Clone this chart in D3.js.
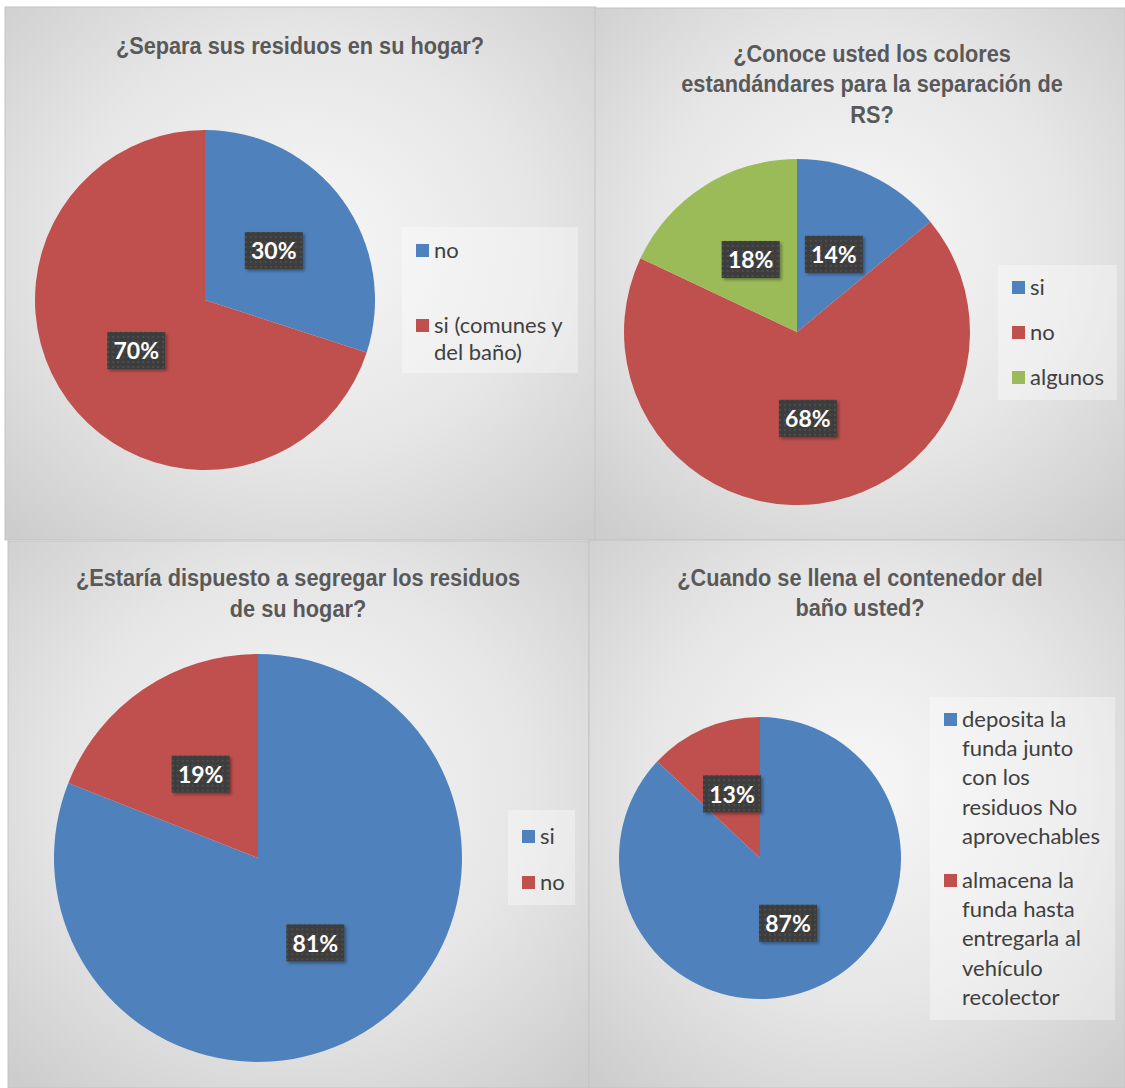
<!DOCTYPE html>
<html>
<head>
<meta charset="utf-8">
<script src="https://cdn.jsdelivr.net/npm/d3@7"></script>
<style>
  html, body { margin: 0; padding: 0; background: #ffffff; }
  svg { display: block; }
</style>
</head>
<body>
<svg id="chart" width="1125" height="1088"></svg>
<script>
// Survey results on household waste separation: four pie charts.
const titles1 = ["¿Separa sus residuos en su hogar?"];
const categories1 = ["no", "si (comunes y del baño)"];
const values1 = [30, 70];

const titles2 = ["¿Conoce usted los colores", "estandándares para la separación de", "RS?"];
const categories2 = ["si", "no", "algunos"];
const values2 = [14, 68, 18];

const titles3 = ["¿Estaría dispuesto a segregar los residuos", "de su hogar?"];
const categories3 = ["si", "no"];
const values3 = [81, 19];

const titles4 = ["¿Cuando se llena el contenedor del", "baño usted?"];
const categories4 = ["deposita la funda junto con los residuos No aprovechables",
                     "almacena la funda hasta entregarla al vehículo recolector"];
const values4 = [87, 13];

// legend line breaks as wrapped in each legend box
const legendLines1 = [["no"], ["si (comunes y", "del baño)"]];
const legendLines2 = [["si"], ["no"], ["algunos"]];
const legendLines3 = [["si"], ["no"]];
const legendLines4 = [["deposita la", "funda junto", "con los", "residuos No", "aprovechables"],
                      ["almacena la", "funda hasta", "entregarla al", "vehículo", "recolector"]];

const palette2 = ["#4f81bd", "#c0504d", "#9bbb59"];

const svg = d3.select("#chart");
const defs = svg.append("defs");

// soft radial background for every panel
const grad = defs.append("radialGradient")
  .attr("id", "panelBg").attr("cx", "50%").attr("cy", "45%").attr("r", "72%");
grad.append("stop").attr("offset", "0%").attr("stop-color", "#f7f7f7");
grad.append("stop").attr("offset", "55%").attr("stop-color", "#e6e6e6");
grad.append("stop").attr("offset", "100%").attr("stop-color", "#cdcdcd");

// dotted dark fill for the data-label boxes
const pat = defs.append("pattern")
  .attr("id", "labelDots").attr("patternUnits", "userSpaceOnUse")
  .attr("width", 5).attr("height", 5);
pat.append("rect").attr("width", 5).attr("height", 5).attr("fill", "#3c3c3c");
pat.append("rect").attr("x", 1).attr("y", 1).attr("width", 2).attr("height", 2).attr("fill", "#4e4e4e");

const shadow = defs.append("filter").attr("id", "boxShadow")
  .attr("x", "-20%").attr("y", "-20%").attr("width", "150%").attr("height", "150%");
shadow.append("feDropShadow").attr("dx", 2).attr("dy", 2).attr("stdDeviation", 1.5)
  .attr("flood-color", "#000").attr("flood-opacity", 0.35);

const charts = [
  { box: [5, 7, 591, 533], titles: titles1, cats: categories1, vals: values1, lines: legendLines1,
    title: { x: 300, y: 54, dy: 31 }, pie: { cx: 205, cy: 300, r: 170 },
    legend: { x: 402, y: 227, w: 176, h: 146, rowsY: [250, 325], lh: 27 } },
  { box: [595, 8, 530, 532], titles: titles2, cats: categories2, vals: values2, lines: legendLines2,
    title: { x: 872, y: 62, dy: 30.5 }, pie: { cx: 797, cy: 332, r: 173 },
    legend: { x: 998, y: 265, w: 119, h: 135, rowsY: [287, 332, 377], lh: 27 } },
  { box: [8, 541, 581, 547], titles: titles3, cats: categories3, vals: values3, lines: legendLines3,
    title: { x: 298, y: 586, dy: 31 }, pie: { cx: 258, cy: 858, r: 204 },
    legend: { x: 508, y: 810, w: 67, h: 95, rowsY: [836, 882], lh: 27 } },
  { box: [589, 540, 536, 548], titles: titles4, cats: categories4, vals: values4, lines: legendLines4,
    title: { x: 860, y: 586, dy: 30.5 }, pie: { cx: 760, cy: 858, r: 141 },
    legend: { x: 930, y: 697, w: 185, h: 323, rowsY: [719, 880], lh: 29.3 } }
];

charts.forEach(c => {
  const g = svg.append("g");
  const [bx, by, bw, bh] = c.box;

  g.append("rect").attr("x", bx).attr("y", by).attr("width", bw).attr("height", bh)
    .attr("fill", "url(#panelBg)").attr("stroke", "#c4c4c4").attr("stroke-width", 1);

  // title, set in a horizontally condensed bold face
  g.append("g").attr("transform", `translate(${c.title.x},${c.title.y}) scale(0.945,1)`)
    .append("text")
    .attr("text-anchor", "middle")
    .attr("font-family", "'Liberation Sans Narrow', 'Arial Narrow', 'Liberation Sans', sans-serif")
    .attr("font-weight", "bold").attr("font-size", 23).attr("fill", "#595959")
    .selectAll("tspan").data(c.titles).join("tspan")
      .attr("x", 0).attr("y", (d, i) => i * c.title.dy)
      .text(d => d);

  // pie
  const color = d3.scaleOrdinal().domain(c.cats).range(palette2);
  const pie = d3.pie().sort(null).value(d => d.v);
  const arcs = pie(c.cats.map((k, i) => ({ k, v: c.vals[i] })));
  const arc = d3.arc().innerRadius(0).outerRadius(c.pie.r);
  const pg = g.append("g").attr("transform", `translate(${c.pie.cx},${c.pie.cy})`);
  pg.selectAll("path").data(arcs).join("path")
    .attr("d", arc).attr("fill", d => color(d.data.k));

  // value labels at the slice centroid
  const lab = pg.selectAll("g.lab").data(arcs).join("g").attr("class", "lab")
    .attr("transform", d => `translate(${arc.centroid(d)})`);
  lab.append("rect").attr("x", -29).attr("y", -18).attr("width", 58).attr("height", 37)
    .attr("fill", "url(#labelDots)").attr("filter", "url(#boxShadow)");
  lab.append("text").attr("text-anchor", "middle").attr("dy", "0.4em")
    .attr("font-family", "Lato, 'Open Sans', sans-serif").attr("font-weight", "bold")
    .attr("font-size", 23).attr("fill", "#ffffff")
    .text(d => d.data.v + "%");

  // legend
  const L = c.legend;
  g.append("rect").attr("x", L.x).attr("y", L.y).attr("width", L.w).attr("height", L.h)
    .attr("fill", "#ffffff").attr("fill-opacity", 0.35);
  c.cats.forEach((k, i) => {
    const y = L.rowsY[i];
    g.append("rect").attr("x", L.x + 14).attr("y", y - 6).attr("width", 13).attr("height", 13)
      .attr("fill", color(k));
    g.append("text")
      .attr("font-family", "Lato, 'Open Sans', sans-serif").attr("font-size", 22)
      .attr("fill", "#404040")
      .selectAll("tspan").data(c.lines[i]).join("tspan")
        .attr("x", L.x + 32).attr("y", (d, j) => y + j * L.lh).attr("dy", "0.35em")
        .text(d => d);
  });
});
</script>
</body>
</html>
